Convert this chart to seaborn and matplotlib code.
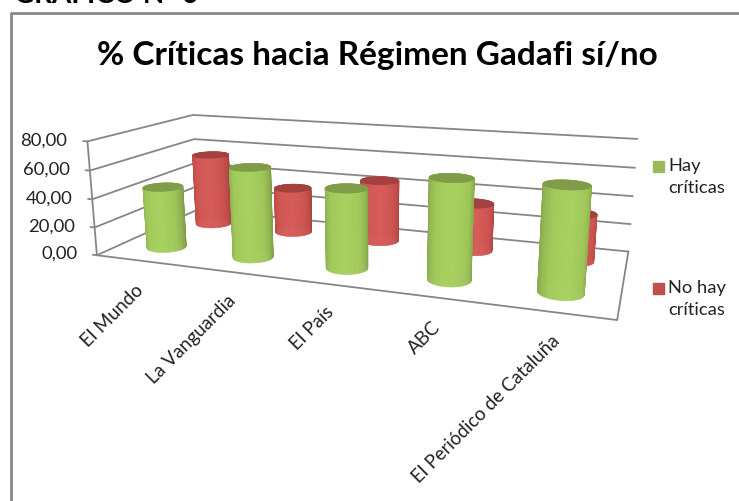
import numpy as np
import seaborn as sns
import matplotlib
matplotlib.use("Agg")
import matplotlib.pyplot as plt
from matplotlib.patches import Rectangle
from matplotlib.lines import Line2D
from mpl_toolkits.mplot3d import proj3d

sns.set_theme(style="white")
plt.rcParams['font.family'] = ['Lato', 'DejaVu Sans']

periodicos = ["El Mundo", "La Vanguardia", "El País", "ABC", "El Periódico de Cataluña"]
hay_criticas = [44, 63, 54, 66, 67]
no_hay_criticas = [55, 34, 45, 34, 33]
ticks = [0, 20, 40, 60, 80]

# where each rotated label ends, in picture pixels
label_ends = [(141, 288), (233, 298), (331, 309), (438, 325), (557, 338)]

GRID = "#868686"
TEXT = "#222222"
green_side = sns.blend_palette(["#8cab4f", "#a2ca5b", "#a8d160", "#9fc659", "#809d49"], 24)
red_side = sns.blend_palette(["#b5483f", "#cf5652", "#d65d59", "#cc5350", "#a8423f"], 24)
green_top = "#7f9c48"
red_top = "#a3413e"

fig = plt.figure(figsize=(7.39, 5.02), dpi=100)
ax = fig.add_axes([0, (502-739)/2/502, 1, 739/502], projection="3d", computed_zorder=False)
ax.set_xlim(0, 5)
ax.set_ylim(0, 2)
ax.set_zlim(0, 80)
ax.view_init(13.851, -70.043, 0.08)
ax.set_box_aspect((1, 0.384, 0.231), zoom=3.542)
ax.set_axis_off()

# camera window, worked out against the corners of the plot box
s, tx, ty = 819.28, 364.09, 303.28
xmin = -tx/s
ymin = (-118.5 - ty)/s
ax.viewLim.intervalx = (xmin, xmin + 739/s)
ax.viewLim.intervaly = (ymin, ymin + 739/s)
M = ax.get_proj()

# walls and floor
for v in ticks:
    ax.plot([-0.05, 0, 0, 5], [0, 0, 2, 2], [v, v, v, v], color=GRID, lw=1.3, zorder=1)
    px, py, _ = proj3d.proj_transform(-0.24, 0, v, M)
    ax.text2D(px, py, f"{v:.2f}".replace(".", ","), transform=ax.transData, ha="right",
              va="center", fontsize=13.3, color=TEXT)
ax.plot([0, 0], [0, 0], [0, 80], color=GRID, lw=1.3, zorder=1)
ax.plot([0, 5, 5], [0, 0, 2], [0, 0, 0], color=GRID, lw=1.3, zorder=1)


def cylinder(xc, yc, height, side, top, z):
    r = 0.2
    theta = np.linspace(-np.pi + 0.35, np.pi + 0.35, 49)
    xs = xc + r*np.cos(theta)
    ys = yc + r*np.sin(theta)
    X = np.array([xs, xs])
    Y = np.array([ys, ys])
    Z = np.array([np.zeros_like(xs), np.full_like(xs, height)])
    cols = np.ones((1, 48, 4))
    for k in range(48):
        cols[0, k, :3] = side[k if k < 24 else 47 - k]
    surf = ax.plot_surface(X, Y, Z, facecolors=cols, rstride=1, cstride=1, shade=False,
                           antialiased=True, linewidth=0.4, zorder=z)
    surf.set_edgecolor(cols[0])
    ax.plot_trisurf(np.r_[xc, xs[:-1]], np.r_[yc, ys[:-1]], np.full(49, float(height)), color=top,
                    shade=False, linewidth=0.4, edgecolor=top, antialiased=True, zorder=z + 0.5)


for i, v in enumerate(no_hay_criticas):
    cylinder(i + 0.5, 1.5, v, red_side, red_top, 2 + i)
for i, v in enumerate(hay_criticas):
    cylinder(i + 0.5, 0.5, v, green_side, green_top, 10 + i)

for name, (ex, ey) in zip(periodicos, label_ends):
    fig.text(ex/739, 1 - ey/502, name, rotation=45, rotation_mode="anchor", ha="right", va="center",
             fontsize=13.5, color=TEXT)

fig.text(377/739, 1 - 55/502, "% Críticas hacia Régimen Gadafi sí/no", ha="center", va="center",
         fontsize=24, fontweight="bold", color="black")
fig.text(14/739, 1 - 3/502, "GRÁFICO Nº 6", ha="left", va="baseline", fontsize=20,
         fontweight="bold", color="black")

# chart frame, cut by the image on the right and at the bottom
fig.add_artist(Line2D([11/739, 11/739, 1], [0, 1 - 14/502, 1 - 14/502], color=GRID, lw=2))

# legend
for lab, col, yy in [("Hay\ncríticas", "#9bbb59", 167), ("No hay\ncríticas", "#c0504d", 289)]:
    fig.add_artist(Rectangle((653/739, 1 - (yy + 5.5)/502), 11/739, 11/502, color=col,
                             transform=fig.transFigure))
    fig.text(668/739, 1 - (yy - 9)/502, lab, ha="left", va="top", fontsize=13.2, color=TEXT,
             linespacing=1.43)

fig.savefig("out.png", dpi=100)
